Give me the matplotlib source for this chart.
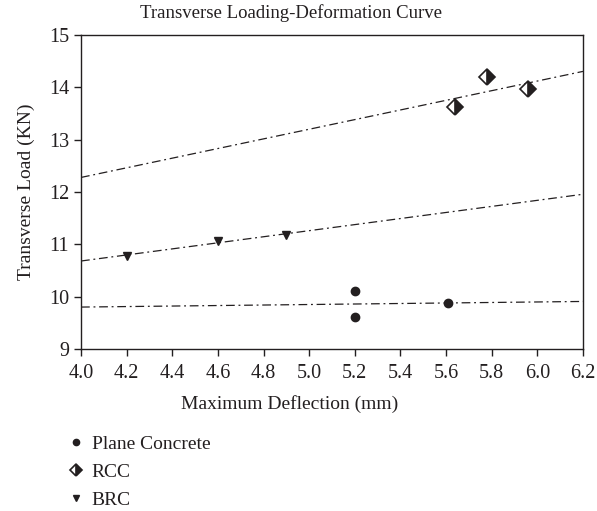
import numpy as np
import matplotlib
matplotlib.use("Agg")
import matplotlib.pyplot as plt

plt.rcParams['font.family'] = ['Liberation Serif', 'DejaVu Serif']
ink = '#231f20'

# data
plane_x = [5.2, 5.2, 5.61]
plane_y = [10.1, 9.62, 9.88]
rcc_x = [5.64, 5.78, 5.96]
rcc_y = [13.63, 14.2, 13.96]
brc_x = [4.2, 4.6, 4.9]
brc_y = [10.78, 11.07, 11.18]

xticks = [4.0, 4.2, 4.4, 4.6, 4.8, 5.0, 5.2, 5.4, 5.6, 5.8, 6.0, 6.2]
yticks = [9, 10, 11, 12, 13, 14, 15]

fig = plt.figure(figsize=(5.97, 5.11), dpi=100)
ax = fig.add_axes([0.1357, 0.317, 0.8408, 0.6145])

# linear trend line for each series
xx = np.array([4.0, 6.2])
for xs, ys in [(plane_x, plane_y), (rcc_x, rcc_y), (brc_x, brc_y)]:
    k, b = np.polyfit(xs, ys, 1)
    ax.plot(xx, k * xx + b, color=ink, lw=0.9, dashes=(7, 3, 1.5, 3), zorder=2)

h1, = ax.plot(plane_x, plane_y, 'o', color=ink, ms=6, ls='none', label='Plane Concrete', zorder=3)
h2, = ax.plot(rcc_x, rcc_y, 'D', ms=8, ls='none', color=ink, mfc=ink, mfcalt='white',
              fillstyle='right', mec=ink, mew=1.2, label='RCC', zorder=3)
h3, = ax.plot(brc_x, brc_y, 'v', color=ink, ms=6, ls='none', label='BRC', zorder=3)

ax.set_xlim(4.0, 6.2)
ax.set_ylim(9, 15)
ax.set_xticks(xticks)
ax.set_xticklabels([f'{v:.1f}' for v in xticks])
ax.set_yticks(yticks)
ax.tick_params(direction='out', length=5, width=1, colors=ink, labelsize=14.5)
ax.tick_params(axis='x', pad=6)
for s in ax.spines.values():
    s.set_color(ink)
    s.set_linewidth(1)

ax.set_title('Transverse Loading-Deformation Curve', fontsize=13.5, color=ink, x=0.418, pad=12)
ax.set_xlabel('Maximum Deflection (mm)', fontsize=14, color=ink)
ax.xaxis.set_label_coords(0.416, -0.147)
ax.set_ylabel('Transverse Load (KN)', fontsize=14, color=ink)
ax.yaxis.set_label_coords(-0.092, 0.5)

fig.legend(handles=[h1, h2, h3], loc='upper left', bbox_to_anchor=(0.085, 0.183),
           frameon=False, fontsize=14, handlelength=0.8, handletextpad=0.4,
           labelspacing=0.55, labelcolor=ink, markerscale=0.75)

fig.savefig('out.png', dpi=100)
